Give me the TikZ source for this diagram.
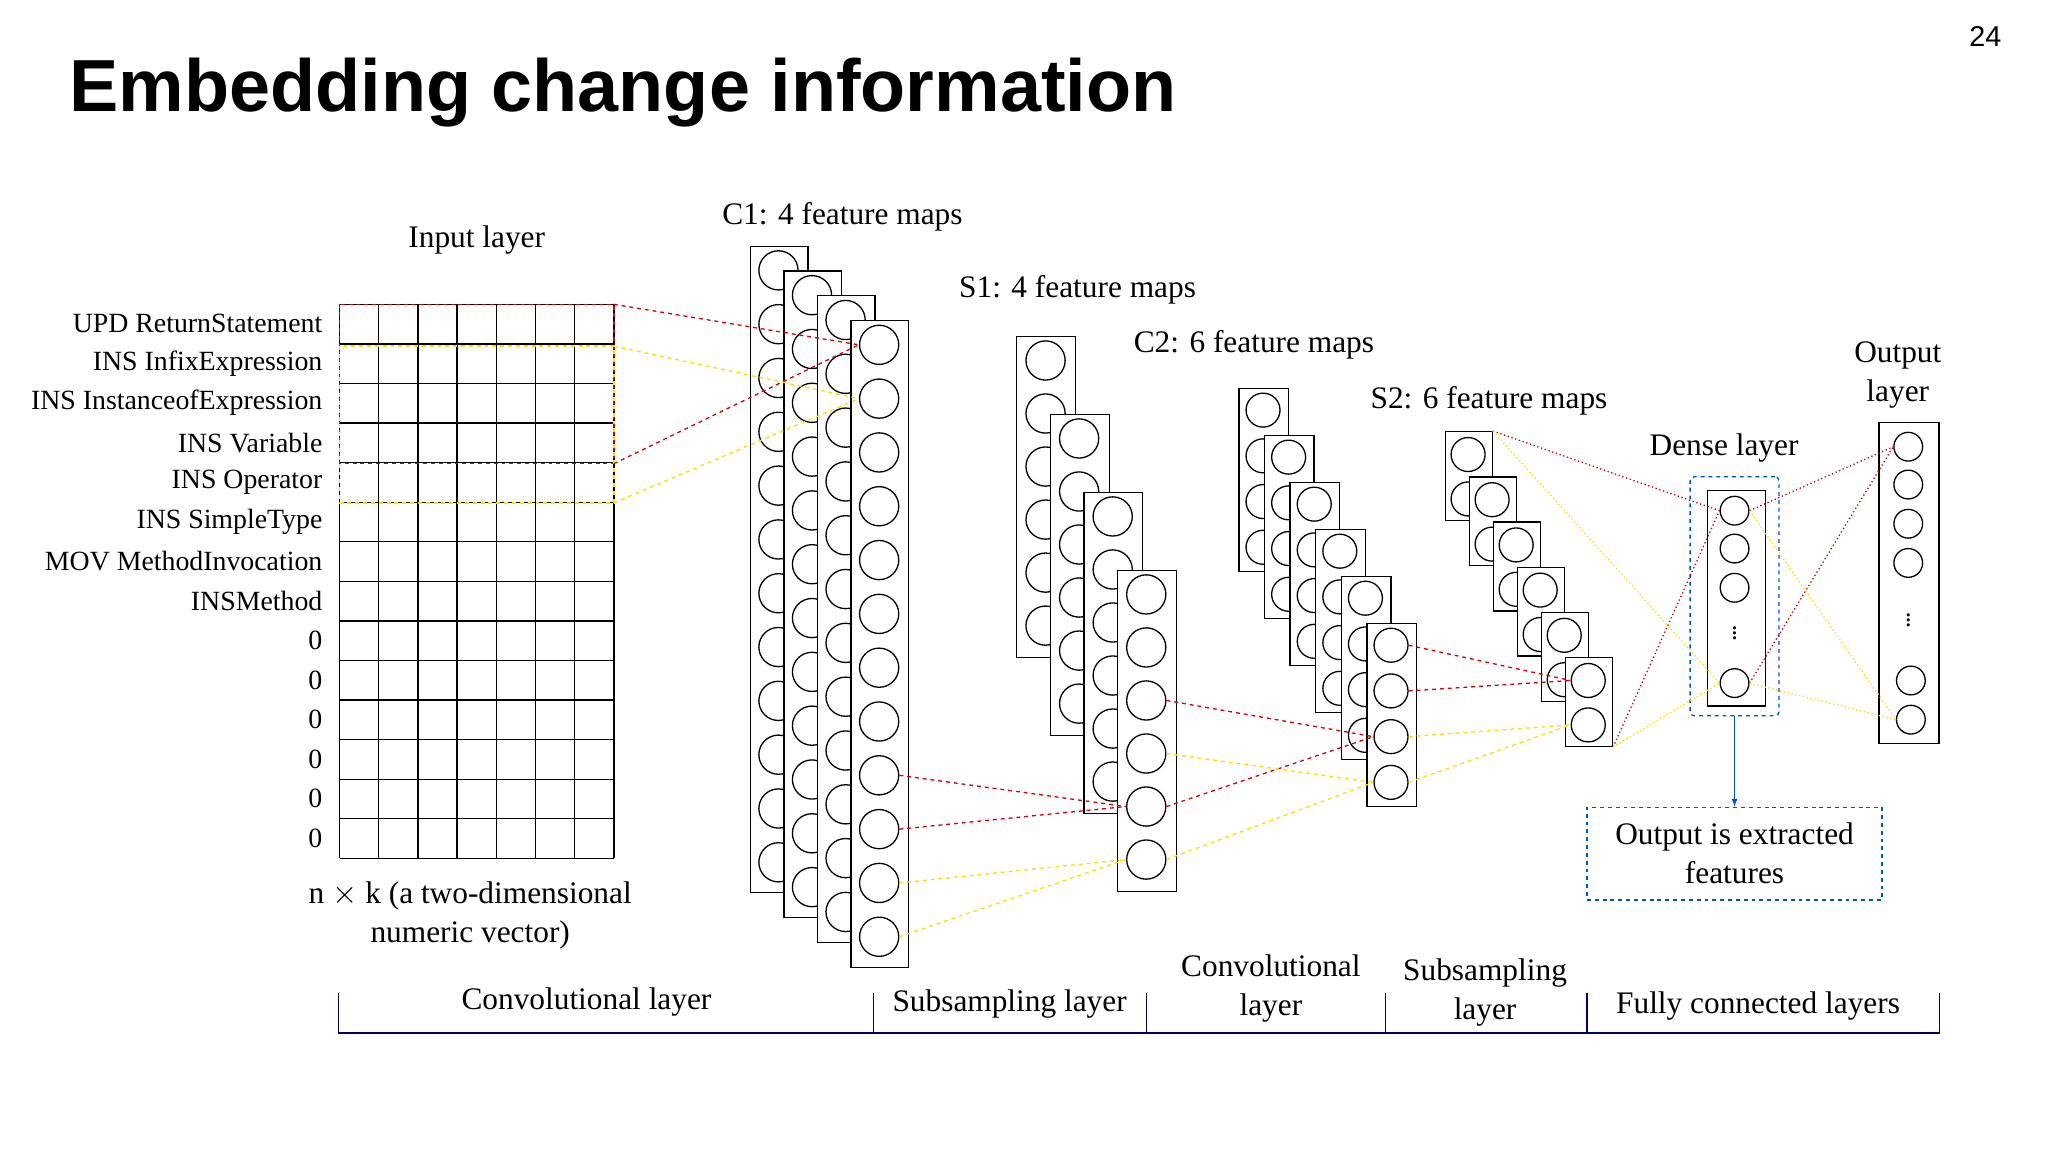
\documentclass[tikz,border=0pt]{standalone}
\usepackage{fontspec}
\setmainfont{Liberation Serif}
\newfontfamily\titlefont{Liberation Sans}
\begin{document}
\begin{tikzpicture}[x=1pt,y=-1pt,
  txt/.style={font=\fontsize{24}{30}\selectfont,inner sep=0pt,align=center},
  lab/.style={font=\fontsize{21.3}{24}\selectfont,inner sep=0pt,anchor=east},
  fm/.style={draw,fill=white,line width=1pt,inner sep=0pt,anchor=north west},
  neu/.style={draw,fill=white,circle,line width=1pt,inner sep=0pt},
  rd/.style={draw=red!85!black,dashed,line width=1pt},
  yd/.style={draw=yellow!80!orange,dashed,line width=1pt},
  rdot/.style={draw=red!85!black,dotted,line width=1pt},
  ydot/.style={draw=yellow!80!orange,dotted,line width=1pt},
  bl/.style={draw=blue!60!cyan!80!black,dashed,line width=1pt},
  vd/.style={inner sep=0pt,font=\fontsize{20}{20}\selectfont}]
\useasboundingbox (0,0) rectangle (1568,882);
\node[anchor=base west,inner sep=0pt,font=\titlefont\bfseries\fontsize{56.5}{60}\selectfont] (title) at (53,85) {Embedding change information};
\node[inner sep=0pt,font=\titlefont\fontsize{22}{24}\selectfont] (pg) at (1520,28) {24};
% input grid
\foreach \c in {0,...,7} \draw[line width=1pt] ({260+\c*30},233) -- ({260+\c*30},657.2);
\foreach \r in {0,...,14} \draw[line width=1pt] (260,{233+\r*30.3}) -- (470,{233+\r*30.3});
\foreach \t [count=\k from 0] in {UPD ReturnStatement,INS InfixExpression,INS InstanceofExpression,INS Variable,INS Operator,INS SimpleType,MOV MethodInvocation,INSMethod,0,0,0,0,0,0}
  \node[lab] (in\k) at (247,248+\k*30.3) {\t};
\node[txt] (inl) at (365,184) {Input layer};
\node[txt] (nk) at (360,701) {n $\times$ k (a two-dimensional\\numeric vector)};
\coordinate (ra) at (470,233); \coordinate (rb) at (470,355);
\coordinate (ya) at (470,265); \coordinate (yb) at (470,385);
\draw[rd] (260,233) rectangle (rb);
\draw[yd] (260,265) rectangle (yb);
% C1
\foreach \i in {0,...,3}{
  \node[fm,minimum width=44pt,minimum height=495pt] (c1r-\i) at ({574+\i*25.7},{188+\i*19}) {};
  \foreach \k in {0,...,11}
    \node[neu,minimum size=30pt] (c1-\i-\k) at ({574+\i*25.7+22},{188+\i*19+19+\k*41.2}) {};
}
\node[txt] (c1l) at (645,166) {C1: 4 feature maps};
% S1
\foreach \i in {0,...,3}{
  \node[fm,minimum width=45pt,minimum height=246pt] (s1r-\i) at ({778+\i*25.7},{257+\i*59.7}) {};
  \foreach \k in {0,...,5}
    \node[neu,minimum size=30pt] (s1-\i-\k) at ({778+\i*25.7+22.5},{257+\i*59.7+19+\k*40.6}) {};
}
\node[txt] (s1l) at (825,222) {S1: 4 feature maps};
% C2
\foreach \i in {0,...,5}{
  \node[fm,minimum width=38pt,minimum height=140pt] (c2r-\i) at ({948+\i*19.6},{297+\i*36}) {};
  \foreach \k in {0,...,3}
    \node[neu,minimum size=26pt] (c2-\i-\k) at ({948+\i*19.6+19},{297+\i*36+17+\k*35}) {};
}
\node[txt] (c2l) at (960,264) {C2: 6 feature maps};
% S2
\foreach \i in {0,...,5}{
  \node[fm,minimum width=36pt,minimum height=68pt] (s2r-\i) at ({1106+\i*18.4},{330+\i*34.6}) {};
  \foreach \k in {0,1}
    \node[neu,minimum size=26pt] (s2-\i-\k) at ({1106+\i*18.4+18},{330+\i*34.6+18+\k*34}) {};
}
\node[txt] (s2l) at (1140,307) {S2: 6 feature maps};
% dense
\node[bl,rounded corners=3pt,minimum width=68pt,minimum height=183pt,inner sep=0pt] (dbox) at (1328,456.5) {};
\node[fm,minimum width=44pt,minimum height=165pt] (dr) at (1307,375) {};
\node[neu,minimum size=22pt] (d1) at (1328,391) {};
\node[neu,minimum size=22pt] (d2) at (1328,420) {};
\node[neu,minimum size=22pt] (d3) at (1328,450) {};
\node[vd] (dd) at (1328,482) {$\vdots$};
\node[neu,minimum size=22pt] (d5) at (1328,523) {};
\node[txt] (dl) at (1320,343) {Dense layer};
% output
\node[fm,minimum width=46pt,minimum height=246pt] (or) at (1438,323) {};
\foreach \y [count=\k] in {342,371,401,431}
  \node[neu,minimum size=22pt] (o\k) at (1461,\y) {};
\node[vd] (od) at (1461,472) {$\vdots$};
\node[neu,minimum size=22pt] (o6) at (1463,521) {};
\node[neu,minimum size=22pt] (o7) at (1463,551) {};
\node[txt] (ol) at (1453,287) {Output\\layer};
% extracted
\node[bl,minimum width=226pt,minimum height=71pt,txt] (ex) at (1328,653.5) {Output is extracted\\features};
\draw[-latex,draw=blue!60!cyan!80!black,line width=1pt] (dbox.south) -- (ex.north);
% connectors input->C1
\draw[rd] (ra) -- (c1-3-0.west); \draw[rd] (rb) -- (c1-3-0.west);
\draw[yd] (ya) -- (c1-3-1.west); \draw[yd] (yb) -- (c1-3-1.west);
% C1->S1
\draw[rd] (c1-3-8.east) -- (s1-3-4.west); \draw[rd] (c1-3-9.east) -- (s1-3-4.west);
\draw[yd] (c1-3-10.east) -- (s1-3-5.west); \draw[yd] (c1-3-11.east) -- (s1-3-5.west);
% S1->C2
\draw[rd] (s1-3-2.east) -- (c2-5-2.west); \draw[rd] (s1-3-4.east) -- (c2-5-2.west);
\draw[yd] (s1-3-3.east) -- (c2-5-3.west); \draw[yd] (s1-3-5.east) -- (c2-5-3.west);
% C2->S2
\draw[rd] (c2-5-0.east) -- (s2-5-0.west); \draw[rd] (c2-5-1.east) -- (s2-5-0.west);
\draw[yd] (c2-5-2.east) -- (s2-5-1.west); \draw[yd] (c2-5-3.east) -- (s2-5-1.west);
% S2->dense
\draw[rdot] (s2r-0.north east) -- (d1.west); \draw[rdot] (s2r-5.south east) -- (d1.west);
\draw[ydot] (s2r-0.north east) -- (d5.west); \draw[ydot] (s2r-5.south east) -- (d5.west);
% dense->output
\draw[rdot] (d1.east) -- (o1.west); \draw[rdot] (d5.east) -- (o1.west);
\draw[ydot] (d1.east) -- (o7.west); \draw[ydot] (d5.east) -- (o7.west);
% bottom bracket
\draw[line width=1pt,draw=black!60!blue] (259,760) -- (259,791) -- (1485,791) -- (1485,760);
\foreach \x in {669,878,1061,1215} \draw[line width=1pt,draw=black!60!blue] (\x,760) -- (\x,791);
\node[txt] (b1) at (449,767) {Convolutional layer};
\node[txt] (b2) at (773,769) {Subsampling layer};
\node[txt] (b3) at (973,757) {Convolutional\\layer};
\node[txt] (b4) at (1137,760) {Subsampling\\layer};
\node[txt] (b5) at (1346,770) {Fully connected layers};
\end{tikzpicture}
\end{document}
